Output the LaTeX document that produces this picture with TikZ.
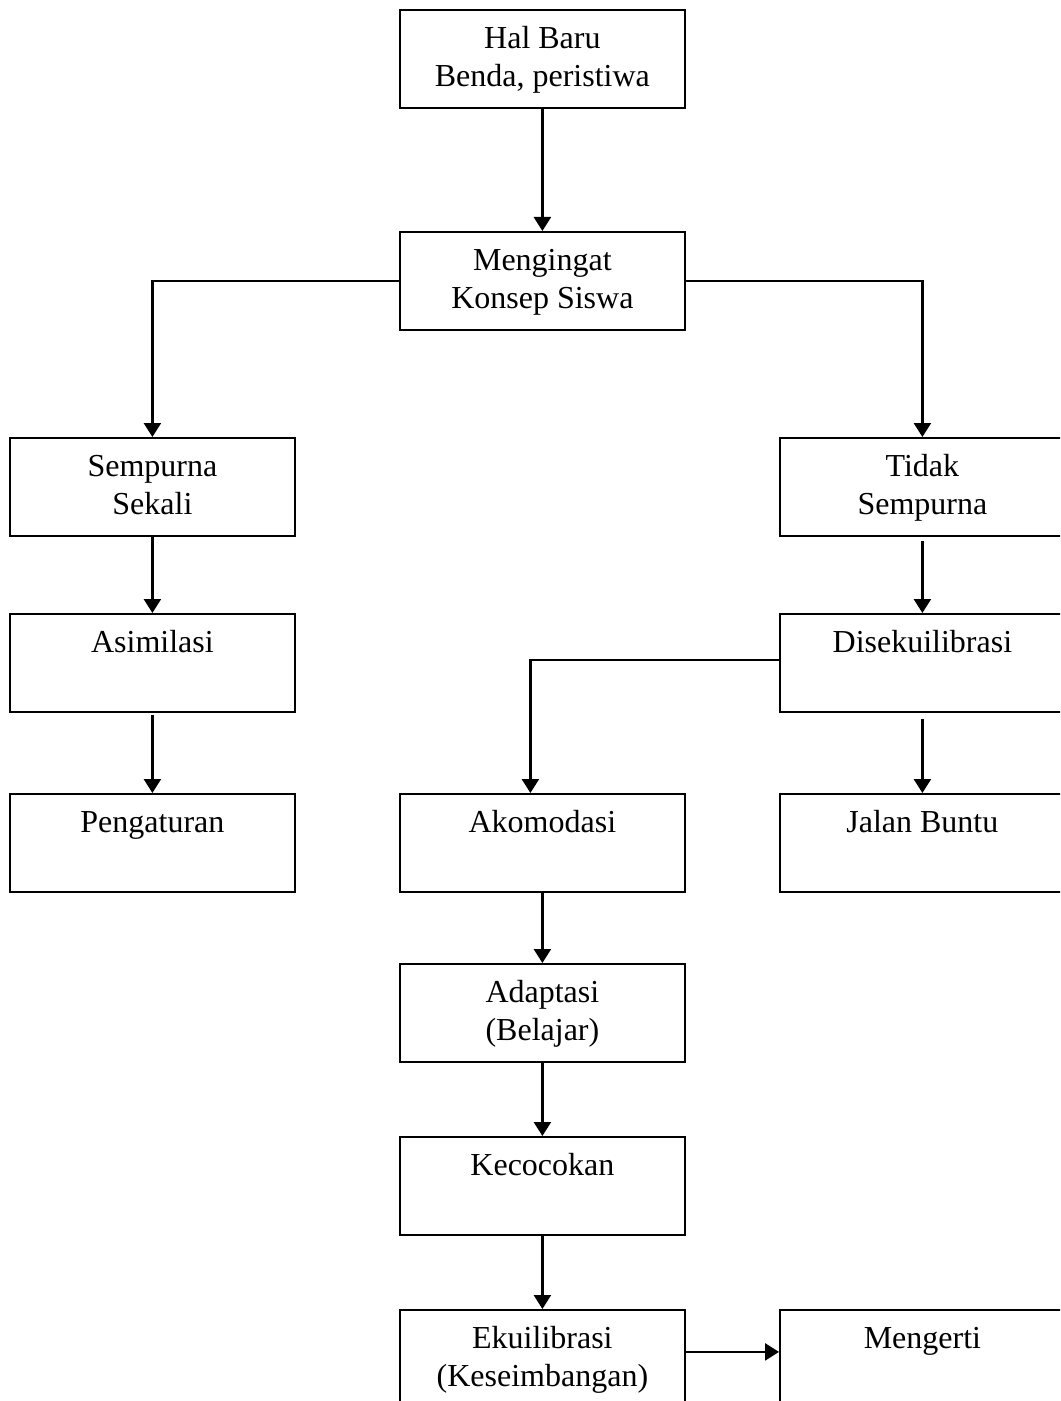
\documentclass[tikz,border=0pt]{standalone}
\usepackage{fontspec}
\setmainfont{Liberation Serif}
\usetikzlibrary{arrows.meta}
\newcommand{\boxtext}[1]{\parbox[c][49pt][t]{142.5pt}{\centering\fontsize{16}{19}\selectfont\rule{0pt}{19.5pt}#1}}
\begin{document}
\begin{tikzpicture}[x=0.5pt, y=-0.5pt, >={Triangle[length=7pt,width=8.5pt]},
        box/.style={draw, line width=0.9pt, inner sep=0pt, anchor=north west},
        link/.style={line width=1.2pt, ->}]
        \clip (0,0) rectangle (1060,1401);
        % top
        \node[box] (hal) at (399,9) {\boxtext{Hal Baru\\Benda, peristiwa}};
        \node[box] (ingat) at (399,231) {\boxtext{Mengingat\\Konsep Siswa}};
        % left branch
        \node[box] (sempurna) at (9,437) {\boxtext{Sempurna\\Sekali}};
        \node[box] (asimilasi) at (9,613) {\boxtext{Asimilasi}};
        \node[box] (atur) at (9,793) {\boxtext{Pengaturan}};
        % right branch
        \node[box] (tidak) at (779,437) {\boxtext{Tidak\\Sempurna}};
        \node[box] (diseku) at (779,613) {\boxtext{Disekuilibrasi}};
        \node[box] (buntu) at (779,793) {\boxtext{Jalan Buntu}};
        % middle
        \node[box] (akomodasi) at (399,793) {\boxtext{Akomodasi}};
        \node[box] (adaptasi) at (399,963) {\boxtext{Adaptasi\\(Belajar)}};
        \node[box] (cocok) at (399,1136) {\boxtext{Kecocokan}};
        \node[box] (ekuil) at (399,1309) {\boxtext{Ekuilibrasi\\(Keseimbangan)}};
        \node[box] (mengerti) at (779,1309) {\boxtext{Mengerti}};

        \draw[link] (hal) -- (ingat);
        \draw[link] (ingat.west) -| (sempurna.north);
        \draw[link] (ingat.east) -| (tidak.north);
        \draw[link] (sempurna) -- (asimilasi);
        \draw[link] ([yshift=-1pt]asimilasi.south) -- (atur);
        \draw[link] ([yshift=-2pt]tidak.south) -- (diseku);
        \draw[link] ([yshift=1.5pt]diseku.west) -| ([xshift=-6pt]akomodasi.north);
        \draw[link] ([yshift=-3pt]diseku.south) -- (buntu);
        \draw[link] (akomodasi) -- (adaptasi);
        \draw[link] (adaptasi) -- (cocok);
        \draw[link] (cocok) -- (ekuil);
        \draw[link] ([yshift=3.5pt]ekuil.east) -- ([yshift=3.5pt]mengerti.west);
    \end{tikzpicture}
\end{document}
